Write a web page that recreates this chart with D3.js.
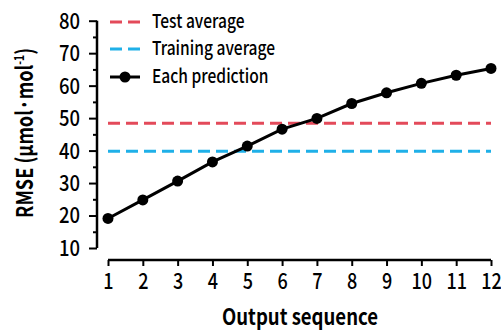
<html lang="en">
<head>
<meta charset="utf-8" />
<title>RMSE by output sequence</title>
<style>
  body { margin: 0; background: #fff; }
  text { font-family: "Noto Sans CJK KR", "Liberation Sans", sans-serif; fill: #000; }
</style>
</head>
<body>
<div id="chart"></div>
<script src="https://d3js.org/d3.v7.min.js"></script>
<script>
  var steps = [1, 2, 3, 4, 5, 6, 7, 8, 9, 10, 11, 12];
  var rmse = [19.1, 24.8, 30.6, 36.5, 41.4, 46.6, 49.9, 54.5, 57.8, 60.7, 63.2, 65.3];
  var testAvg = 48.4;
  var trainAvg = 39.8;
  var yTicks = [10, 20, 30, 40, 50, 60, 70, 80];
  var legendItems = ["Test average", "Training average", "Each prediction"];

  var width = 501, height = 331;
  var svg = d3.select("#chart").append("svg")
    .attr("width", width).attr("height", height);

  var x = d3.scaleLinear().domain([1, 12]).range([108, 491]);
  var y = d3.scaleLinear().domain([10, 80]).range([248, 20.7]);

  // narrow the text horizontally around its anchor point
  function squeeze(sel, k) {
    sel.each(function () {
      var t = d3.select(this);
      var tx = +t.attr("x") || 0, ty = +t.attr("y") || 0;
      t.attr("transform", "translate(" + tx + "," + ty + ") scale(" + k + ",1)")
        .attr("x", 0).attr("y", 0);
    });
  }

  // y axis
  var yAxis = svg.append("g").attr("transform", "translate(97,0)")
    .call(d3.axisLeft(y).tickValues(d3.range(10, 81, 5)).tickSize(4).tickFormat(""));
  yAxis.selectAll(".tick line").attr("stroke-width", 2)
    .attr("x2", function (d) { return d % 10 === 0 ? -8 : -4; });
  yAxis.select(".domain").attr("stroke-width", 2.5)
    .attr("d", "M0," + y(10) + "V" + y(80));
  var yLab = yAxis.selectAll(".ylab").data(yTicks).enter().append("text")
    .attr("x", -17).attr("y", function (d) { return y(d); })
    .attr("dy", "0.36em").attr("text-anchor", "end")
    .attr("font-size", 22).attr("font-weight", 500).text(function (d) { return d; });
  squeeze(yLab, 0.84);

  // x axis
  var xAxis = svg.append("g").attr("transform", "translate(0,260)")
    .call(d3.axisBottom(x).tickValues(steps).tickSize(6).tickPadding(7).tickFormat(d3.format("d")));
  xAxis.select(".domain").attr("stroke-width", 2.5)
    .attr("d", "M" + x(1) + ",0H" + x(12));
  xAxis.selectAll(".tick line").attr("stroke-width", 2);
  var xLab = xAxis.selectAll(".tick text").attr("font-size", 22).attr("font-weight", 500)
    .attr("fill", "#000").attr("font-family", null);
  squeeze(xLab, 0.82);

  // averages
  svg.append("line").attr("x1", x(1)).attr("x2", x(12))
    .attr("y1", y(testAvg)).attr("y2", y(testAvg))
    .attr("stroke", "#e34a5a").attr("stroke-width", 3).attr("stroke-dasharray", "12,6");
  svg.append("line").attr("x1", x(1)).attr("x2", x(12))
    .attr("y1", y(trainAvg)).attr("y2", y(trainAvg))
    .attr("stroke", "#1fb0e8").attr("stroke-width", 3).attr("stroke-dasharray", "12,6");

  // prediction line
  var line = d3.line().x(function (d, i) { return x(steps[i]); }).y(function (d) { return y(d); });
  svg.append("path").datum(rmse).attr("d", line)
    .attr("fill", "none").attr("stroke", "#000").attr("stroke-width", 3);
  svg.selectAll(".pt").data(rmse).enter().append("circle")
    .attr("cx", function (d, i) { return x(steps[i]); })
    .attr("cy", function (d) { return y(d); })
    .attr("r", 5.5).attr("fill", "#000");

  // legend
  var leg = svg.append("g");
  var legY = [22, 49, 77];
  var legColors = ["#e34a5a", "#1fb0e8", "#000"];
  legendItems.forEach(function (t, i) {
    var ln = leg.append("line").attr("x1", 110).attr("x2", 140)
      .attr("y1", legY[i]).attr("y2", legY[i])
      .attr("stroke", legColors[i]).attr("stroke-width", 3);
    if (i < 2) ln.attr("stroke-dasharray", "12,6");
    else leg.append("circle").attr("cx", 125).attr("cy", legY[i]).attr("r", 5.5).attr("fill", "#000");
    var lt = leg.append("text").attr("x", 152).attr("y", legY[i]).attr("dy", "0.34em")
      .attr("font-size", 19).attr("font-weight", 500).text(t);
    squeeze(lt, 0.82);
  });

  // axis titles
  svg.append("text").attr("x", 300).attr("y", 325).attr("text-anchor", "middle")
    .attr("font-size", 22).attr("font-weight", "bold")
    .attr("textLength", 156).attr("lengthAdjust", "spacingAndGlyphs").text("Output sequence");
  var yt = svg.append("text").attr("transform", "translate(33,133) rotate(-90)")
    .attr("text-anchor", "middle").attr("font-size", 23).attr("font-weight", "bold")
    .attr("textLength", 170).attr("lengthAdjust", "spacingAndGlyphs");
  yt.append("tspan").text("RMSE (μmol·mol");
  yt.append("tspan").attr("font-size", 13).attr("dy", -9).text("-1");
  yt.append("tspan").attr("dy", 9).text(")");
</script>
</body>
</html>
